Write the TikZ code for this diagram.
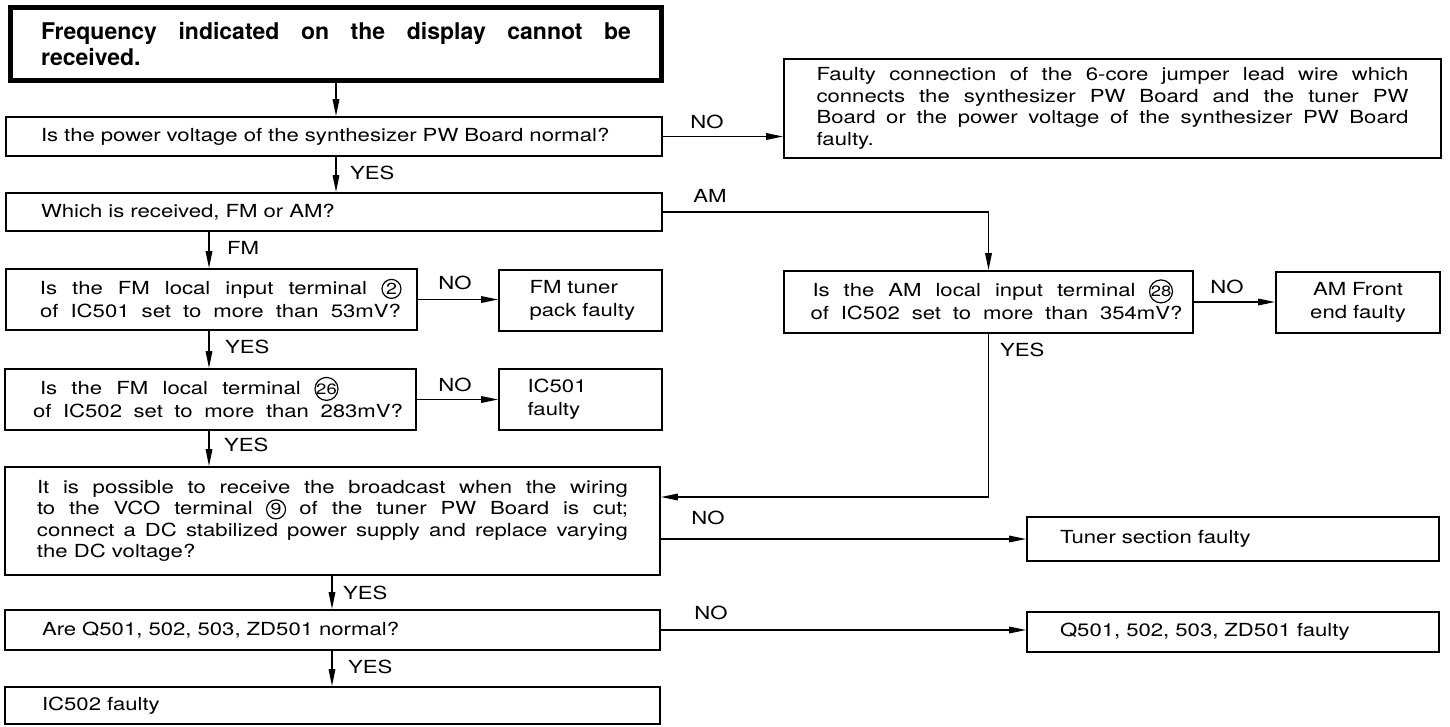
\documentclass[tikz,border=0pt]{standalone}
\usepackage{fontspec}
\usepackage{pict2e}
\setmainfont{TeX Gyre Heros}
\newfontfamily\wideheros{TeX Gyre Heros}[FakeStretch=1.23]
\usetikzlibrary{arrows.meta}
\newcommand\normfont{\wideheros\fontsize{18}{21.5}\selectfont}
\newcommand\twofont{\wideheros\fontsize{18}{23}\selectfont}
\newcommand\titfont{\bfseries\fontsize{23}{26}\selectfont}
% circled number: #1 diameter, #2 radius, #3 digits, #4 digit size
\newcommand\cnum[4]{{\setlength{\unitlength}{1pt}\linethickness{1.2pt}%
  \begin{picture}(#1,9)\put(#2,5.5){\circle{#1}}%
  \put(0,0){\makebox(#1,11){\fontsize{#4}{#4}\selectfont #3}}\end{picture}}}
% a line spread to a given width
\newcommand\jl[2]{\makebox[#1][s]{\spaceskip=0.3333em plus 1fil\relax #2}}
\tikzset{
  box/.style={draw, line width=1.6pt, inner sep=0pt, font=\normfont},
  arr/.style={line width=1.6pt, -{Triangle[length=17pt,width=6.5pt]}},
  lab/.style={font=\normfont, inner sep=0pt, anchor=west},
  labc/.style={font=\normfont, inner sep=0pt, anchor=center},
}
\begin{document}
\begin{tikzpicture}[x=1pt,y=-1pt]
\useasboundingbox (0,0) rectangle (1450,726);
% coordinates for vertical connectors
\coordinate (xa) at (336,0);
\coordinate (xb) at (209,0);
\coordinate (xc) at (332,0);
\coordinate (yb) at (0,497);

\node[draw, line width=5pt, minimum width=651.5pt, minimum height=72.5pt, inner sep=0pt,
      text width=590pt, align=justify, font=\titfont] (title) at (336,43.75)
  {Frequency indicated on the display cannot be\linebreak received.};

\node[box, minimum width=656pt, minimum height=39pt, text width=586pt, align=left] (b2) at (334,136.5)
  {Is the power voltage of the synthesizer PW Board normal?};

\node[box, minimum width=657pt, minimum height=99pt, text width=592pt, align=justify] (r1) at (1112.5,108.5)
  {Faulty connection of the 6-core jumper lead wire which\linebreak connects the synthesizer PW Board and the tuner PW\linebreak Board or the power voltage of the synthesizer PW Board\linebreak faulty.};

\node[box, minimum width=656pt, minimum height=38pt, text width=586pt, align=left] (b3) at (334,212)
  {Which is received, FM or AM?};

\node[box, font=\twofont, minimum width=411pt, minimum height=61pt, text width=392pt, align=left] (b4) at (211.5,299.5)
  {\hspace*{24.5pt}\jl{361pt}{Is the FM local input terminal \cnum{19}{9.5}{2}{16}}\\
   \hspace*{24.5pt}\jl{361pt}{of IC501 set to more than 53mV?}};

\node[box, font=\twofont, minimum width=163pt, minimum height=61pt, text width=130pt, align=left] (fmt) at (580.5,300.5)
  {\hspace*{14pt}FM tuner\\\hspace*{14pt}pack faulty};

\node[box, font=\twofont, minimum width=411pt, minimum height=61pt, text width=385pt, align=left] (b5) at (210.5,399.5)
  {\hspace*{22pt}\jl{298pt}{Is the FM local terminal \cnum{23}{11.5}{26}{15}}\\
   \hspace*{15pt}\jl{370pt}{of IC502 set to more than 283mV?}};

\node[box, font=\twofont, minimum width=163pt, minimum height=61pt, text width=130pt, align=left] (ic501) at (580.5,399.5)
  {\hspace*{12pt}IC501\\\hspace*{12pt}faulty};

\node[box, font=\twofont, minimum width=409pt, minimum height=62pt, text width=390pt, align=left] (am) at (988.5,302)
  {\hspace*{19pt}\jl{360pt}{Is the AM local input terminal \cnum{23}{11.5}{28}{15}}\\
   \hspace*{17pt}\jl{372pt}{of IC502 set to more than 354mV?}};

\node[box, font=\twofont, minimum width=164pt, minimum height=61pt, text width=140pt, align=center] (amf) at (1358,302.5)
  {AM Front\\end faulty};

\node[box, minimum width=655pt, minimum height=108pt, text width=591pt, align=justify] (b6) at (332.5,521)
  {It is possible to receive the broadcast when the wiring\linebreak to the VCO terminal \cnum{19}{9.5}{9}{16} of the tuner PW Board is cut;\linebreak connect a DC stabilized power supply and replace varying\linebreak the DC voltage?};

\node[box, minimum width=412pt, minimum height=44pt, text width=346pt, align=left] (tuner) at (1233,539)
  {Tuner section faulty};

\node[box, minimum width=655pt, minimum height=40pt, text width=581pt, align=left] (b7) at (332.5,630)
  {Are Q501, 502, 503, ZD501 normal?};

\node[box, minimum width=412pt, minimum height=40pt, text width=346pt, align=left] (q) at (1233,632)
  {Q501, 502, 503, ZD501 faulty};

\node[box, minimum width=655pt, minimum height=37pt, text width=581pt, align=left] (b8) at (332.5,705.5)
  {IC502 faulty};

% connectors
\draw[arr] (title.south -| xa) -- (b2.north -| xa);
\draw[arr] (b2.south -| xa) -- (b3.north -| xa);
\draw[arr] (b2.east) -- (b2.east -| r1.west);
\draw[arr] (b3.south -| xb) -- (b4.north -| xb);
\draw[arr] (b3.east) -| (am.north);
\draw[arr] (b4.east) -- (b4.east -| fmt.west);
\draw[arr] (b4.south -| xb) -- (b5.north -| xb);
\draw[arr] (b5.east) -- (b5.east -| ic501.west);
\draw[arr] (b5.south -| xb) -- (b6.north -| xb);
\draw[arr] (am.east) -- (am.east -| amf.west);
\draw[arr] (am.south) |- (b6.east |- yb);
\draw[arr] (b6.east |- tuner.west) -- (tuner.west);
\draw[arr] (b6.south -| xc) -- (b7.north -| xc);
\draw[arr] (b7.east) -- (b7.east -| q.west);
\draw[arr] (b7.south -| xc) -- (b8.north -| xc);

% labels
\node[lab] (l1) at (350,173) {YES};
\node[labc] (l2) at (707,122) {NO};
\node[labc] (l3) at (710,196) {AM};
\node[lab] (l4) at (227,248) {FM};
\node[labc] (l5) at (455,283) {NO};
\node[lab] (l6) at (225,347) {YES};
\node[labc] (l7) at (455,385) {NO};
\node[labc] (l8) at (1227,287) {NO};
\node[lab] (l9) at (1000,350) {YES};
\node[lab] (l10) at (224,445) {YES};
\node[labc] (l11) at (708,518) {NO};
\node[lab] (l12) at (343,593) {YES};
\node[labc] (l13) at (711,613) {NO};
\node[lab] (l14) at (348,667) {YES};
\end{tikzpicture}
\end{document}
